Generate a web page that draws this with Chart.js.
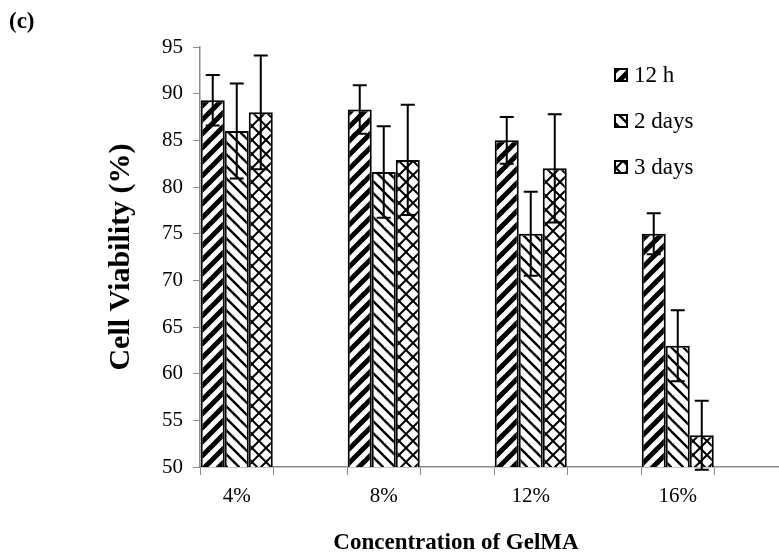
<!DOCTYPE html>
<html>
<head>
<meta charset="utf-8">
<script src="https://cdn.jsdelivr.net/npm/chart.js@4/dist/chart.umd.min.js"></script>
<style>
html, body { margin: 0; padding: 0; background: #fff; overflow: hidden; }
#wrap { position: relative; width: 779px; height: 559px; overflow: hidden; }
#box { position: absolute; left: 0; top: 0; width: 830px; height: 559px; }
.lbl { position: absolute; font-family: "Liberation Serif", "Times New Roman", serif; font-weight: bold; color: #000; white-space: nowrap; }
</style>
</head>
<body>
<div id="wrap">
  <div id="box"><canvas id="viabilityChart"></canvas></div>
  <div class="lbl" style="left:9px; top:8px; font-size:23px;">(c)</div>
  <div class="lbl" id="xTitle" style="left:456px; top:529px; font-size:23px; transform:translateX(-50%);">Concentration of GelMA</div>
</div>
<script>
// Data
const concentrations = ['4%', '8%', '12%', '16%'];
const seriesNames = ['12 h', '2 days', '3 days'];
const viability12h = [89.3, 88.3, 85.0, 75.0];
const error12h = [2.7, 2.6, 2.5, 2.2];
const viability2d = [86.0, 81.6, 75.0, 63.0];
const error2d = [5.1, 4.9, 4.5, 3.8];
const viability3d = [88.0, 82.9, 82.0, 53.4];
const error3d = [6.1, 5.9, 5.8, 3.7];
const yTicks = [50, 55, 60, 65, 70, 75, 80, 85, 90, 95];

const FONT = '"Liberation Serif", "Times New Roman", serif';
const AXIS_GREY = '#8a8a8a';

// Each concentration gets its own slot followed by an empty one (as in the original sheet)
function spread(values) {
    const out = [];
    values.forEach(v => { out.push(v); out.push(null); });
    return out;
}
const slotLabels = spread(concentrations).map(v => v === null ? '' : v);

// Hatch fills like the Excel pattern fills
function makePattern(kind, size) {
    const c = document.createElement('canvas');
    c.width = size; c.height = size;
    const g = c.getContext('2d');
    g.fillStyle = '#fff';
    g.fillRect(0, 0, size, size);
    g.strokeStyle = '#000';
    const up = (w) => {
        g.lineWidth = w;
        for (let k = -1; k <= 1; k++) {
            g.beginPath();
            g.moveTo(k * size - 2, size + 2);
            g.lineTo(k * size + size + 2, -2);
            g.stroke();
        }
    };
    const down = (w) => {
        g.lineWidth = w;
        for (let k = -1; k <= 1; k++) {
            g.beginPath();
            g.moveTo(k * size - 2, -2);
            g.lineTo(k * size + size + 2, size + 2);
            g.stroke();
        }
    };
    if (kind === 'up') up(5);
    if (kind === 'down') down(2.4);
    if (kind === 'cross') { up(2); down(2); }
    return g.createPattern(c, 'repeat');
}

const fills = [makePattern('up', 14), makePattern('down', 12), makePattern('cross', 14)];
const errors = [error12h, error2d, error3d];

// Error bars drawn from the y scale
const errorBarPlugin = {
    id: 'errorBars',
    afterDatasetsDraw(chart) {
        const ctx = chart.ctx;
        const y = chart.scales.y;
        ctx.save();
        ctx.strokeStyle = '#000';
        ctx.lineWidth = 2;
        chart.data.datasets.forEach((ds, di) => {
            const meta = chart.getDatasetMeta(di);
            const errs = spread(errors[di]);
            meta.data.forEach((bar, i) => {
                const v = ds.data[i];
                if (v === null) return;
                const e = errs[i];
                const top = y.getPixelForValue(v + e);
                const bottom = y.getPixelForValue(v - e);
                const half = 7;
                ctx.beginPath();
                ctx.moveTo(bar.x, top);
                ctx.lineTo(bar.x, bottom);
                ctx.moveTo(bar.x - half, top);
                ctx.lineTo(bar.x + half, top);
                ctx.moveTo(bar.x - half, bottom);
                ctx.lineTo(bar.x + half, bottom);
                ctx.stroke();
            });
        });
        ctx.restore();
    }
};

// Legend inside the plot, top right
const legendPlugin = {
    id: 'insideLegend',
    afterDraw(chart) {
        const ctx = chart.ctx;
        const x0 = 615, y0 = 75, step = 46, box = 12;
        ctx.save();
        ctx.font = '23px ' + FONT;
        ctx.textBaseline = 'middle';
        ctx.fillStyle = '#000';
        chart.data.datasets.forEach((ds, i) => {
            const cy = y0 + i * step;
            ctx.fillStyle = ds.backgroundColor;
            ctx.fillRect(x0, cy - box / 2, box, box);
            ctx.strokeStyle = '#000';
            ctx.lineWidth = 2;
            ctx.strokeRect(x0, cy - box / 2, box, box);
            ctx.fillStyle = '#000';
            ctx.fillText(ds.label, x0 + box + 7, cy + 1);
        });
        ctx.restore();
    }
};

function buildChart() {
    const ctx = document.getElementById('viabilityChart').getContext('2d');
    const seriesValues = [viability12h, viability2d, viability3d];
    new Chart(ctx, {
        type: 'bar',
        data: {
            labels: slotLabels,
            datasets: seriesValues.map((vals, i) => ({
                label: seriesNames[i],
                data: spread(vals),
                backgroundColor: fills[i],
                borderColor: '#000',
                borderWidth: 2,
                categoryPercentage: 0.98,
                barPercentage: 1.0
            }))
        },
        options: {
            responsive: true,
            maintainAspectRatio: false,
            animation: false,
            layout: { padding: { left: 99, top: 47, right: 42, bottom: 0 } },
            plugins: {
                legend: { display: false },
                tooltip: { enabled: false }
            },
            scales: {
                x: {
                    type: 'category',
                    offset: true,
                    grid: {
                        offset: true,
                        drawOnChartArea: false,
                        drawTicks: true,
                        tickLength: 8,
                        color: AXIS_GREY
                    },
                    border: { display: true, color: AXIS_GREY, width: 1.5 },
                    ticks: {
                        color: '#000',
                        font: { family: FONT, size: 21 },
                        padding: 9,
                        autoSkip: false,
                        maxRotation: 0
                    },
                    afterFit(axis) { axis.height = 92; }
                },
                y: {
                    min: 50,
                    max: 95,
                    afterBuildTicks(axis) { axis.ticks = yTicks.map(v => ({ value: v })); },
                    grid: {
                        drawOnChartArea: false,
                        drawTicks: true,
                        tickLength: 7,
                        color: AXIS_GREY
                    },
                    border: { display: true, color: AXIS_GREY, width: 1.5 },
                    ticks: {
                        color: '#000',
                        font: { family: FONT, size: 21 },
                        padding: 10
                    },
                    title: {
                        display: true,
                        text: 'Cell Viability (%)',
                        color: '#000',
                        font: { family: FONT, size: 30, weight: 'bold' },
                        padding: { top: 4, bottom: 0 }
                    },
                    afterFit(axis) { axis.width = 101; }
                }
            }
        },
        plugins: [errorBarPlugin, legendPlugin]
    });
}

window.onload = buildChart;
</script>
</body>
</html>
